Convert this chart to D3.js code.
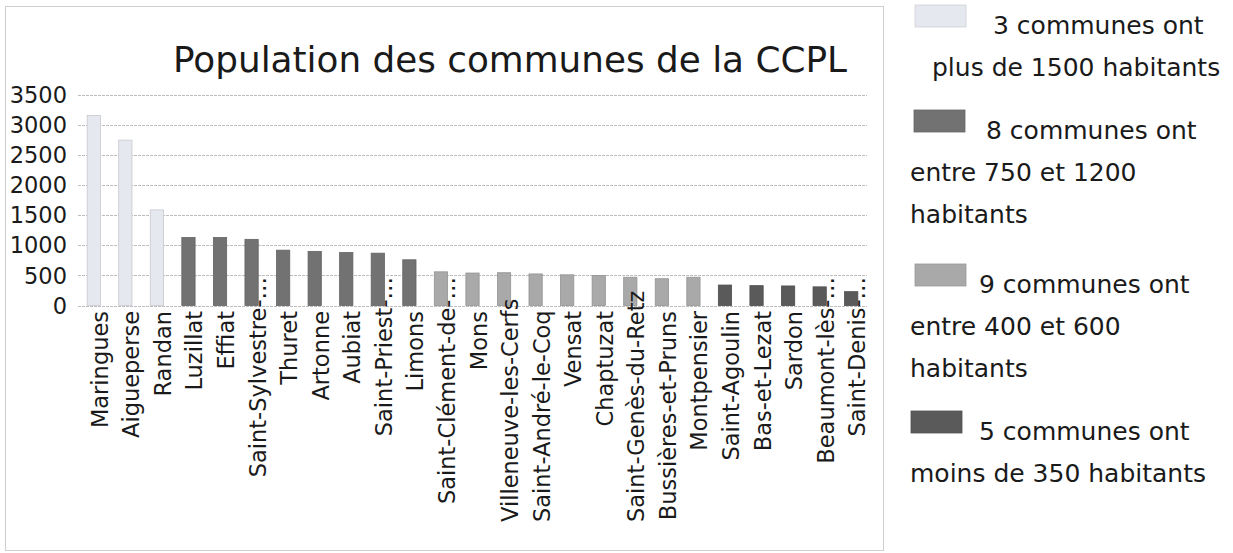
<!DOCTYPE html>
<html>
<head>
<meta charset="utf-8">
<script src="https://cdn.jsdelivr.net/npm/d3@7"></script>
<style>
  body { margin: 0; background: #fff; }
  svg { display: block; font-family: "DejaVu Sans", Verdana, sans-serif; }
</style>
</head>
<body>
<div id="chart"></div>
<script>
// communes, sorted by population
const communes = [
  "Maringues", "Aigueperse", "Randan", "Luzillat", "Effiat", "Saint-Sylvestre-…",
  "Thuret", "Artonne", "Aubiat", "Saint-Priest-…", "Limons", "Saint-Clément-de-…",
  "Mons", "Villeneuve-les-Cerfs", "Saint-André-le-Coq", "Vensat", "Chaptuzat",
  "Saint-Genès-du-Retz", "Bussières-et-Pruns", "Montpensier", "Saint-Agoulin",
  "Bas-et-Lezat", "Sardon", "Beaumont-lès-…", "Saint-Denis-…"
];
const population = [
  3160, 2750, 1590, 1130, 1130, 1100,
  920, 900, 880, 870, 760, 560,
  540, 545, 525, 510, 500,
  470, 445, 470, 340,
  330, 325, 310, 230
];
const yTicks = [0, 500, 1000, 1500, 2000, 2500, 3000, 3500];

const title = "Population des communes de la CCPL";
const legendLines = [
  ["3 communes ont", "plus de 1500 habitants"],
  ["8 communes ont", "entre 750 et 1200", "habitants"],
  ["9 communes ont", "entre 400 et 600", "habitants"],
  ["5 communes ont", "moins de 350 habitants"]
];
const groupColors = ["#5a5a5a", "#a9a9a9", "#727272", "#e6e8ef"];

const data = communes.map((c, i) => ({ name: c, value: population[i] }));

const W = 1233, H = 553;
const svg = d3.select("#chart").append("svg")
  .attr("width", W)
  .attr("height", H);

// chart frame
svg.append("rect")
  .attr("x", 5.5).attr("y", 6.5)
  .attr("width", 878).attr("height", 544)
  .attr("fill", "none")
  .attr("stroke", "#cfcfcf");

const x = d3.scaleBand()
  .domain(communes)
  .range([78, 867])
  .paddingInner(0.58)
  .paddingOuter(0.29);

const y = d3.scaleLinear()
  .domain([0, 3500])
  .range([305.5, 95]);

const color = d3.scaleThreshold()
  .domain([350, 700, 1400])
  .range(groupColors);

// title
svg.append("text")
  .attr("x", 510).attr("y", 72)
  .attr("text-anchor", "middle")
  .style("font-size", "35.8px")
  .style("fill", "#1a1a1a")
  .text(title);

// gridlines
svg.append("g")
  .selectAll("line")
  .data(yTicks)
  .join("line")
  .attr("x1", 78).attr("x2", 867)
  .attr("y1", d => Math.round(y(d)) + 0.5)
  .attr("y2", d => Math.round(y(d)) + 0.5)
  .attr("stroke", "#bdbdbd")
  .attr("stroke-dasharray", "3,1");

// y labels
svg.append("g")
  .selectAll("text")
  .data(yTicks)
  .join("text")
  .attr("x", 67)
  .attr("y", d => y(d))
  .attr("dy", "0.36em")
  .attr("text-anchor", "end")
  .style("font-size", "22.5px")
  .style("fill", "#1a1a1a")
  .text(d => d);

// bars
svg.append("g")
  .selectAll("rect")
  .data(data)
  .join("rect")
  .attr("x", d => x(d.name))
  .attr("y", d => y(d.value))
  .attr("width", x.bandwidth())
  .attr("height", d => y(0) - y(d.value))
  .attr("fill", d => color(d.value))
  .attr("stroke", d => d3.color(color(d.value)).darker(0.4))
  .attr("stroke-width", 0.8);

// category labels, rotated
const maxBottom = 522;
const labels = svg.append("g")
  .selectAll("text")
  .data(data)
  .join("text")
  .style("font-size", "22.5px")
  .style("fill", "#1a1a1a")
  .attr("text-anchor", "end")
  .text(d => d.name);

labels.each(function(d) {
  const len = this.getComputedTextLength();
  // truncated labels push their ellipsis up into the plot
  let top = d.name.endsWith("…") ? 277 : 311;
  if (top + len > maxBottom) top = maxBottom - len;
  const cx = x(d.name) + x.bandwidth() / 2 + 14;
  d3.select(this).attr("transform", `translate(${cx},${top}) rotate(-90)`);
});

// legend
const legendTop = [5, 110, 264, 411];
const legendFirstX = [993, 986, 979, 979];
const swatchX = [915, 914, 915, 911];
const legend = svg.append("g");
legendLines.forEach((lines, i) => {
  legend.append("rect")
    .attr("x", swatchX[i]).attr("y", legendTop[i])
    .attr("width", 51).attr("height", 22)
    .attr("fill", groupColors[3 - i])
    .attr("stroke", d3.color(groupColors[3 - i]).darker(0.3))
    .attr("stroke-width", 0.8);
  lines.forEach((t, j) => {
    legend.append("text")
      .attr("x", j === 0 ? legendFirstX[i] : (i === 0 ? 932 : 910))
      .attr("y", legendTop[i] + 29 + j * 42)
      .style("font-size", "25px")
      .style("fill", "#1a1a1a")
      .text(t);
  });
});
</script>
</body>
</html>
